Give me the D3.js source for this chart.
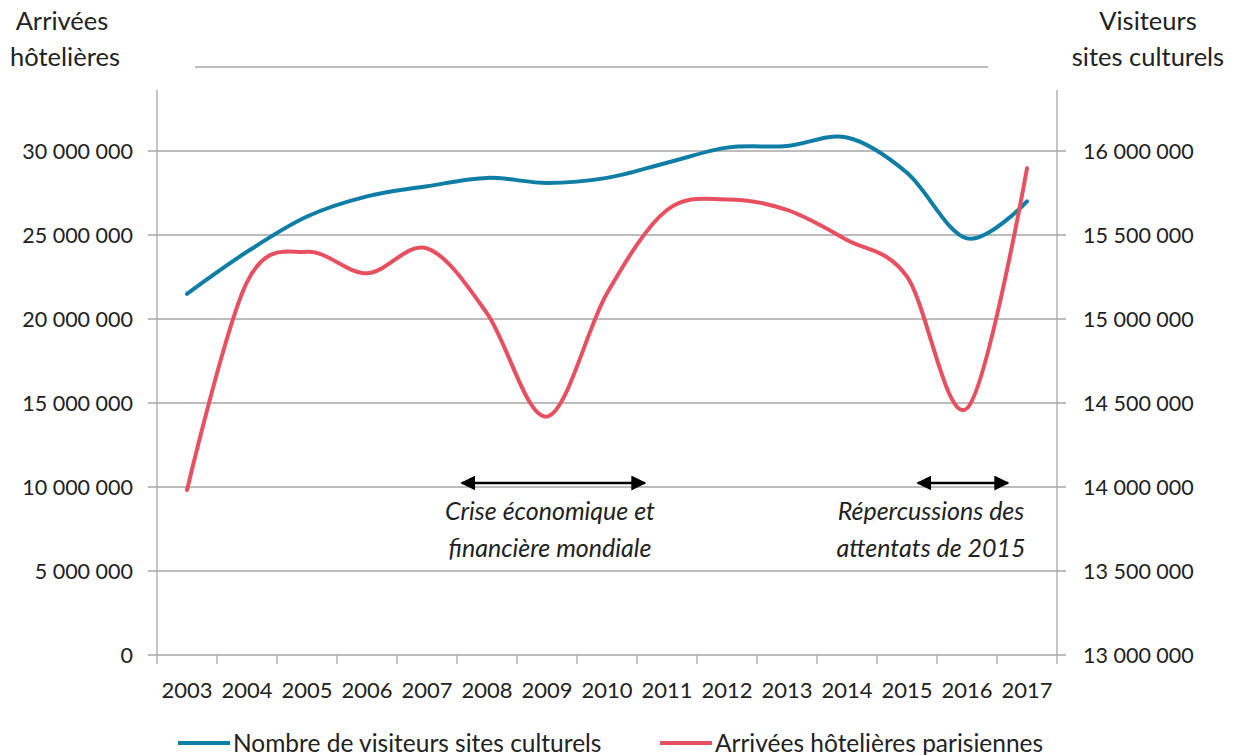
<!DOCTYPE html>
<html lang="fr">
  <head>
    <meta charset="UTF-8" />
    <title>Arrivées hôtelières et visiteurs</title>
    <style>
      body { margin: 0; background: #fff; }
      svg text { font-family: Lato, "Noto Sans", sans-serif; fill: #222; }
    </style>
  </head>
  <body>
    <div id="chart"></div>
    <script src="https://cdnjs.cloudflare.com/ajax/libs/d3/7.8.5/d3.min.js"></script>
    <script>
      var years = ["2003","2004","2005","2006","2007","2008","2009","2010","2011","2012","2013","2014","2015","2016","2017"];
      // visiteurs sites culturels (axe droit)
      var visiteurs = [15150000,15400000,15610000,15730000,15790000,15840000,15810000,15840000,15930000,16020000,16030000,16080000,15870000,15480000,15700000];
      // arrivées hôtelières parisiennes (axe gauche)
      var arrivees = [9820000,22200000,24000000,22720000,24200000,20340000,14190000,21530000,26490000,27120000,26490000,24700000,22520000,14680000,28970000];
      var leftTicks = [0,5000000,10000000,15000000,20000000,25000000,30000000];
      var rightTicks = [13000000,13500000,14000000,14500000,15000000,15500000,16000000];
      var legendLabels = ["Nombre de visiteurs sites culturels", "Arrivées hôtelières parisiennes"];
      // arrows span fractional positions on the year axis
      var notes = [
        { from: 2007.58, to: 2010.63, lines: ["Crise économique et", "financière mondiale"] },
        { from: 2015.18, to: 2016.68, lines: ["Répercussions des", "attentats de 2015"] }
      ];

      var W = 1236, H = 755;
      var pLeft = 157, pRight = 1057, pTop = 90, pBottom = 655;
      var blue = "#0f7ea6", red = "#e8505f", grey = "#a6a6a6";

      var svg = d3.select("#chart").append("svg")
        .attr("width", W).attr("height", H);

      var x = d3.scaleBand().domain(years).range([pLeft, pRight]);
      var xYear = d3.scaleLinear().domain([2003, 2017])
        .range([pLeft + x.bandwidth() / 2, pRight - x.bandwidth() / 2]);
      var yL = d3.scaleLinear().domain([0, 30000000]).range([pBottom, 151]);
      var yR = d3.scaleLinear().domain([13000000, 16000000]).range([pBottom, 151]);
      var fmt = function (v) { return d3.format(",")(v).replace(/,/g, " "); };

      // gridlines
      svg.append("g").selectAll("line").data(leftTicks).enter().append("line")
        .attr("x1", pLeft - 9).attr("x2", pRight + 9)
        .attr("y1", function (d) { return yL(d); })
        .attr("y2", function (d) { return yL(d); })
        .attr("stroke", grey).attr("stroke-width", 1.3);

      // axis lines
      svg.append("line").attr("x1", pLeft).attr("x2", pLeft).attr("y1", pTop).attr("y2", pBottom + 9)
        .attr("stroke", grey).attr("stroke-width", 1.3);
      svg.append("line").attr("x1", pRight).attr("x2", pRight).attr("y1", pTop).attr("y2", pBottom + 9)
        .attr("stroke", grey).attr("stroke-width", 1.3);

      // x ticks at category boundaries
      svg.append("g").selectAll("line").data(years.slice(1)).enter().append("line")
        .attr("x1", function (d) { return x(d); }).attr("x2", function (d) { return x(d); })
        .attr("y1", pBottom).attr("y2", pBottom + 9)
        .attr("stroke", grey).attr("stroke-width", 1.3);

      // decorative line at top
      svg.append("line").attr("x1", 195).attr("x2", 988).attr("y1", 67).attr("y2", 67)
        .attr("stroke", grey).attr("stroke-width", 1.3);

      // tick labels
      svg.append("g").selectAll("text").data(leftTicks).enter().append("text")
        .attr("x", 133).attr("y", function (d) { return yL(d); }).attr("dy", "0.35em")
        .attr("text-anchor", "end").attr("font-size", 21.5).text(fmt);
      svg.append("g").selectAll("text").data(rightTicks).enter().append("text")
        .attr("x", 1083).attr("y", function (d) { return yR(d); }).attr("dy", "0.35em")
        .attr("text-anchor", "start").attr("font-size", 21.5).text(fmt);
      svg.append("g").selectAll("text").data(years).enter().append("text")
        .attr("x", function (d) { return x(d) + x.bandwidth() / 2; }).attr("y", 698)
        .attr("text-anchor", "middle").attr("font-size", 22).text(function (d) { return d; });

      // axis titles
      svg.append("text").attr("x", 62).attr("y", 30).attr("text-anchor", "middle").attr("font-size", 25.5).text("Arrivées");
      svg.append("text").attr("x", 65).attr("y", 66).attr("text-anchor", "middle").attr("font-size", 25.5).text("hôtelières");
      svg.append("text").attr("x", 1148).attr("y", 30).attr("text-anchor", "middle").attr("font-size", 25.5).text("Visiteurs");
      svg.append("text").attr("x", 1148).attr("y", 66).attr("text-anchor", "middle").attr("font-size", 25.5).text("sites culturels");

      // lines
      var cx = function (d, i) { return x(years[i]) + x.bandwidth() / 2; };
      var lineR = d3.line().x(cx).y(function (d) { return yL(d); }).curve(d3.curveCatmullRom.alpha(0));
      var lineB = d3.line().x(cx).y(function (d) { return yR(d); }).curve(d3.curveCatmullRom.alpha(0));
      svg.append("path").attr("d", lineB(visiteurs)).attr("fill", "none")
        .attr("stroke", blue).attr("stroke-width", 4).attr("stroke-linecap", "round");
      svg.append("path").attr("d", lineR(arrivees)).attr("fill", "none")
        .attr("stroke", red).attr("stroke-width", 4).attr("stroke-linecap", "round");

      // annotation arrows
      var defs = svg.append("defs");
      defs.append("marker").attr("id", "ah").attr("viewBox", "0 0 10 10")
        .attr("refX", 9).attr("refY", 5).attr("markerWidth", 6).attr("markerHeight", 6)
        .attr("orient", "auto-start-reverse").attr("markerUnits", "strokeWidth")
        .append("path").attr("d", "M0,0 L10,5 L0,10 z").attr("fill", "#000");
      var ann = svg.append("g").selectAll("g").data(notes).enter().append("g");
      ann.append("line")
        .attr("x1", function (d) { return xYear(d.from); })
        .attr("x2", function (d) { return xYear(d.to); })
        .attr("y1", 483).attr("y2", 483)
        .attr("stroke", "#000").attr("stroke-width", 2.5)
        .attr("marker-start", "url(#ah)").attr("marker-end", "url(#ah)");
      ann.each(function (d) {
        var g = d3.select(this);
        var mid = [550, 931][notes.indexOf(d)];
        d.lines.forEach(function (t, k) {
          g.append("text").attr("x", mid).attr("y", 520 + k * 37)
            .attr("text-anchor", "middle").attr("font-size", 25).attr("font-style", "italic").text(t);
        });
      });

      // legend (clipped at the bottom edge, as in the source image)
      var leg = svg.append("g").selectAll("g").data(legendLabels).enter().append("g")
        .attr("transform", function (d, i) { return "translate(" + (i ? 660 : 178) + ",743)"; });
      leg.append("line").attr("x1", 0).attr("x2", 52).attr("y1", 0).attr("y2", 0)
        .attr("stroke", function (d, i) { return i ? red : blue; }).attr("stroke-width", 4);
      leg.append("text").attr("x", 55).attr("y", 0).attr("dy", "0.35em").attr("font-size", 24.5)
        .text(function (d) { return d; });
    </script>
  </body>
</html>
